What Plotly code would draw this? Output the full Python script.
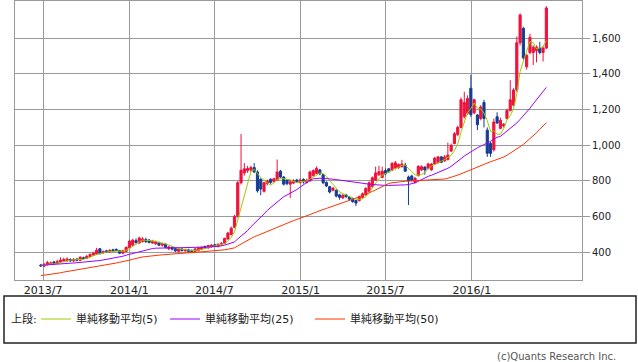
import pandas as pd
import plotly.graph_objects as go

# Weekly candles (first week starting 2013-06-26)
start_date = "2013-06-26"

opens = [328,322,330,338,346,338,345,350,352,360,352,362,355,370,365,375,385,390,420,396,408,402,414,416,410,395,405,
         425,440,465,452,460,472,468,452,448,455,440,445,420,428,420,405,418,408,414,410,405,410,418,432,425,430,442,
         432,442,450,475,500,540,600,790,845,858,862,875,850,810,742,785,810,798,805,855,822,805,782,788,805,792,808,
         792,800,830,842,862,835,792,768,748,748,722,705,722,710,700,690,690,708,722,742,768,805,835,820,858,
         868,860,872,875,880,888,822,828,792,830,862,878,872,862,895,902,935,912,920,968,1010,1060,1100,1160,1180,
         1320,1182,1170,1150,1240,1085,1010,975,1160,1095,1108,1150,1195,1225,1310,1575,1655,1440,1520,1520,1530,
         1545,1520,1545]
highs = [335,340,352,348,352,358,372,370,372,366,368,368,378,376,384,394,402,425,424,410,414,418,420,422,414,415,432,
         470,475,478,488,485,482,475,470,465,460,455,450,436,432,425,422,424,420,420,416,424,430,432,438,442,446,448,
         450,458,482,515,545,610,800,1063,900,885,885,900,860,815,795,808,815,818,920,862,828,810,805,810,812,815,815,
         812,858,865,882,868,840,798,772,765,752,728,726,728,716,706,694,718,735,765,798,825,880,885,880,870,
         872,905,912,898,918,902,830,835,822,888,888,882,902,900,935,940,940,945,1015,1010,1075,1110,1268,1300,1280,
         1395,1262,1175,1225,1255,1100,1020,1150,1185,1155,1125,1205,1365,1320,1610,1740,1665,1510,1625,1560,1560,
         1580,1555,1780]
lows = [318,318,326,332,332,334,340,346,348,346,346,350,350,360,362,372,380,386,388,392,398,398,404,406,390,390,402,
        420,435,448,448,455,452,450,448,440,435,432,422,412,410,402,400,404,402,400,398,400,405,412,420,420,426,430,
        428,438,445,470,495,535,595,780,830,845,850,845,735,720,735,775,782,790,800,815,775,776,705,782,788,785,785,
        785,795,825,838,832,782,765,730,742,708,695,698,705,690,678,660,685,702,718,738,760,800,828,815,832,
        845,855,865,868,875,850,665,798,785,825,855,835,866,858,890,898,900,908,915,962,1005,1050,1095,1150,1170,
        1160,1175,1085,1140,1100,935,935,965,1120,1090,1100,1145,1190,1220,1300,1560,1480,1425,1510,1450,1465,
        1510,1470,1540]
closes = [324,332,342,340,338,348,356,360,362,352,360,355,372,365,378,388,395,412,392,405,402,410,408,410,395,408,428,
          462,468,455,480,475,460,455,462,458,440,448,428,430,418,408,418,410,415,405,404,418,425,428,425,438,440,434,
          445,450,478,508,535,600,790,860,868,870,875,850,745,755,790,798,792,812,850,822,782,785,795,800,795,805,795,
          805,850,858,870,840,790,772,738,760,715,708,720,712,698,684,676,712,728,758,790,818,845,852,855,840,
          852,898,902,892,895,855,802,805,815,882,880,862,895,895,928,935,905,935,945,1000,1065,1100,1255,1240,1262,
          1172,1255,1115,1215,1150,955,955,1130,1125,1140,1118,1195,1255,1310,1575,1730,1490,1505,1605,1550,1550,
          1520,1545,1770]

# Moving averages (25 and 50 week)
ma25 = [327,328,329,330,331,332,334,335,337,338,340,341,343,345,346,348,349,351,354,357,360,363,366,369,372,378,384,
        389,394,398,402,407,412,417,421,423,424,425,426,426,426,426,426,426,426,426,427,427,427,428,429,430,431,432,
        433,436,440,445,450,458,475,490,505,522,543,560,577,597,615,635,650,665,677,695,712,721,730,742,752,765,778,
        792,805,812,815,815,815,814,812,810,808,805,802,799,796,793,790,788,786,784,782,780,778,777,776,775,
        775,775,776,776,777,778,780,784,790,798,808,818,826,832,839,846,853,862,871,882,895,910,925,940,952,
        963,975,986,995,1003,1012,1022,1035,1045,1050,1065,1078,1090,1105,1125,1145,1165,1188,1208,1232,1255,
        1280,1303,1325]
ma50 = [269,271,274,276,279,281,285,289,292,295,298,300,303,306,309,312,315,319,322,325,329,333,336,340,344,347,351,
        356,361,366,371,374,376,379,381,383,384,386,387,389,390,391,392,393,394,396,398,400,401,403,404,406,407,409,
        410,412,414,417,420,425,436,447,458,469,480,487,494,502,510,518,526,533,540,548,556,564,571,578,584,590,596,
        604,612,619,627,634,640,646,653,659,665,674,680,686,691,697,704,710,717,726,734,741,750,760,770,780,
        786,790,793,795,797,798,799,800,801,802,803,803,804,804,805,806,808,811,815,820,826,833,840,848,856,
        864,872,880,888,895,902,908,914,920,925,934,944,955,966,980,992,1005,1020,1035,1052,1070,
        1090,1110,1127]

tick_dates = ["2013-07-01", "2014-01-01", "2014-07-01", "2015-01-01", "2015-07-01", "2016-01-01"]
tick_labels = ["2013/7", "2014/1", "2014/7", "2015/1", "2015/7", "2016/1"]
y_ticks = [400, 600, 800, 1000, 1200, 1400, 1600]
ma_names = ["単純移動平均(5)", "単純移動平均(25)", "単純移動平均(50)"]
ma_colors = ["#99cc00", "#9900ff", "#ff3300"]

dates = pd.date_range(start_date, periods=len(closes), freq="7D")
ma5 = pd.Series(closes).rolling(5, min_periods=1).mean()

RED = "#f0103c"
BLUE = "#143c96"
FONT = "DejaVu Sans, Noto Sans CJK JP, sans-serif"

fig = go.Figure()
fig.add_trace(go.Candlestick(
    x=dates, open=opens, high=highs, low=lows, close=closes,
    increasing=dict(line=dict(color=RED, width=1), fillcolor=RED),
    decreasing=dict(line=dict(color=BLUE, width=1), fillcolor=BLUE),
    whiskerwidth=0, showlegend=False, hoverinfo="skip",
))
legend_ids = ["legend", "legend2", "legend3"]
for vals, name, col, lid in zip([ma5, ma25, ma50], ma_names, ma_colors, legend_ids):
    fig.add_trace(go.Scatter(x=dates, y=vals, mode="lines", line=dict(color=col, width=1),
                             name=name, legend=lid, hoverinfo="skip"))

L, R, T, B = 15, 56, 1, 82
W, H = 638, 362
pw, ph = W - L - R, H - T - B

def px_x(p):
    return (p - L) / pw

def px_y(p):
    return (H - B - p) / ph

def leg(xpix):
    return dict(orientation="h", x=px_x(xpix), xanchor="left", y=px_y(319), yanchor="middle",
                font=dict(size=11, color="#222"), bgcolor="rgba(0,0,0,0)", itemwidth=30)

fig.update_layout(
    width=W, height=H,
    margin=dict(l=L, r=R, t=T, b=B),
    paper_bgcolor="white", plot_bgcolor="white",
    font=dict(family=FONT, size=11, color="#222"),
    boxgap=0.35, boxgroupgap=0,
    xaxis=dict(
        type="date", range=["2013-05-02", "2016-08-23"],
        tickvals=tick_dates, ticktext=tick_labels,
        showgrid=True, gridcolor="#9a9a9a", gridwidth=1,
        showline=True, linecolor="#9a9a9a", linewidth=1, mirror=True,
        ticks="", rangeslider=dict(visible=False),
        tickfont=dict(size=11, color="#222"),
        zeroline=False,
    ),
    yaxis=dict(
        side="right", range=[244.7, 1809],
        tickvals=y_ticks, tickformat=",",
        showgrid=True, gridcolor="#9a9a9a", gridwidth=1,
        showline=True, linecolor="#9a9a9a", linewidth=1, mirror=True,
        ticks="outside", ticklen=7, tickcolor="#9a9a9a",
        tickfont=dict(size=10, color="#222"),
        zeroline=False,
    ),
    legend=leg(36),
    legend2=leg(165),
    legend3=leg(310),
    shapes=[dict(type="rect", xref="paper", yref="paper",
                 x0=px_x(4), x1=px_x(636), y0=px_y(343), y1=px_y(296),
                 line=dict(color="#222", width=1.5))],
    annotations=[
        dict(text="上段:", xref="paper", yref="paper", x=px_x(9), y=px_y(319),
             xanchor="left", yanchor="middle", showarrow=False, font=dict(size=11, color="#222")),
        dict(text="(c)Quants Research Inc.", xref="paper", yref="paper",
             x=px_x(618), y=px_y(356), xanchor="right", yanchor="middle",
             showarrow=False, font=dict(size=10, color="#555")),
    ],
)

fig.write_html("out.html", config={"displayModeBar": False},
               post_script="document.body.style.margin='0';document.body.style.padding='0';")
